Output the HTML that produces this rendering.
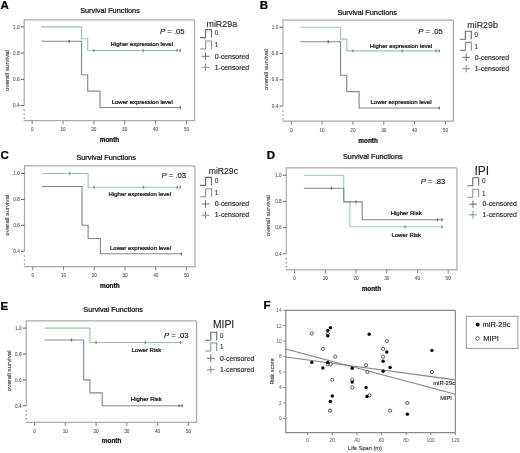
<!DOCTYPE html>
<html><head><meta charset="utf-8"><style>
html,body{margin:0;padding:0;background:#fff;}
svg{display:block;font-family:"Liberation Sans", sans-serif;}
</style></head><body>
<svg width="520" height="453" viewBox="0 0 520 453">
<defs><filter id="bl" x="0" y="0" width="1" height="1"><feGaussianBlur stdDeviation="0.5"/></filter></defs>
<rect width="520" height="453" fill="#fff"/>
<g filter="url(#bl)">
<rect width="520" height="453" fill="#fff"/>
<text x="0.60" y="9.00" font-size="11.5" text-anchor="start" font-weight="bold" font-style="normal" fill="#000" stroke="#000" stroke-width="0.24" >A</text>
<text x="110.00" y="13.00" font-size="7.3" text-anchor="middle" font-weight="normal" font-style="normal" fill="#111" stroke="#111" stroke-width="0.24" >Survival Functions</text>
<line x1="24.20" y1="19.90" x2="194.50" y2="19.90" stroke="#aaaaaa" stroke-width="1.2" />
<line x1="194.50" y1="19.90" x2="194.50" y2="120.60" stroke="#aaaaaa" stroke-width="1.2" />
<line x1="23.60" y1="120.60" x2="195.10" y2="120.60" stroke="#aaaaaa" stroke-width="1.2" />
<line x1="24.20" y1="19.30" x2="24.20" y2="105.50" stroke="#aaaaaa" stroke-width="1.2" />
<rect x="23.55" y="109.75" width="1.3" height="1.3" fill="#888"/>
<rect x="23.55" y="113.75" width="1.3" height="1.3" fill="#888"/>
<rect x="23.55" y="117.75" width="1.3" height="1.3" fill="#888"/>
<line x1="20.70" y1="26.90" x2="24.20" y2="26.90" stroke="#555" stroke-width="0.9" />
<text x="19.60" y="28.60" font-size="4.7" text-anchor="end" font-weight="normal" font-style="normal" fill="#555" stroke="#555" stroke-width="0.08" >1.0</text>
<line x1="20.70" y1="53.10" x2="24.20" y2="53.10" stroke="#555" stroke-width="0.9" />
<text x="19.60" y="54.80" font-size="4.7" text-anchor="end" font-weight="normal" font-style="normal" fill="#555" stroke="#555" stroke-width="0.08" >0.8</text>
<line x1="20.70" y1="79.30" x2="24.20" y2="79.30" stroke="#555" stroke-width="0.9" />
<text x="19.60" y="81.00" font-size="4.7" text-anchor="end" font-weight="normal" font-style="normal" fill="#555" stroke="#555" stroke-width="0.08" >0.6</text>
<line x1="20.70" y1="105.50" x2="24.20" y2="105.50" stroke="#555" stroke-width="0.9" />
<text x="19.60" y="107.20" font-size="4.7" text-anchor="end" font-weight="normal" font-style="normal" fill="#555" stroke="#555" stroke-width="0.08" >0.4</text>
<line x1="32.20" y1="120.60" x2="32.20" y2="124.20" stroke="#777" stroke-width="0.9" />
<text x="32.20" y="131.10" font-size="4.7" text-anchor="middle" font-weight="normal" font-style="normal" fill="#555" stroke="#555" stroke-width="0.08" >0</text>
<line x1="63.04" y1="120.60" x2="63.04" y2="124.20" stroke="#777" stroke-width="0.9" />
<text x="63.04" y="131.10" font-size="4.7" text-anchor="middle" font-weight="normal" font-style="normal" fill="#555" stroke="#555" stroke-width="0.08" >10</text>
<line x1="93.88" y1="120.60" x2="93.88" y2="124.20" stroke="#777" stroke-width="0.9" />
<text x="93.88" y="131.10" font-size="4.7" text-anchor="middle" font-weight="normal" font-style="normal" fill="#555" stroke="#555" stroke-width="0.08" >20</text>
<line x1="124.72" y1="120.60" x2="124.72" y2="124.20" stroke="#777" stroke-width="0.9" />
<text x="124.72" y="131.10" font-size="4.7" text-anchor="middle" font-weight="normal" font-style="normal" fill="#555" stroke="#555" stroke-width="0.08" >30</text>
<line x1="155.56" y1="120.60" x2="155.56" y2="124.20" stroke="#777" stroke-width="0.9" />
<text x="155.56" y="131.10" font-size="4.7" text-anchor="middle" font-weight="normal" font-style="normal" fill="#555" stroke="#555" stroke-width="0.08" >40</text>
<line x1="186.40" y1="120.60" x2="186.40" y2="124.20" stroke="#777" stroke-width="0.9" />
<text x="186.40" y="131.10" font-size="4.7" text-anchor="middle" font-weight="normal" font-style="normal" fill="#555" stroke="#555" stroke-width="0.08" >50</text>
<text x="7.20" y="70.60" font-size="6.2" text-anchor="middle" font-weight="normal" font-style="normal" fill="#3a3a3a" stroke="#3a3a3a" stroke-width="0.12" transform="rotate(-90 7.20 70.60)" dy="2">overall survival</text>
<text x="109.50" y="141.60" font-size="6.4" text-anchor="middle" font-weight="bold" font-style="normal" fill="#111" stroke="#111" stroke-width="0.24" >month</text>
<path d="M41.45,26.90 L81.54,26.90 L81.54,38.69 L87.71,38.69 L87.71,50.48 L180.85,50.48" fill="none" stroke="#93cca2" stroke-width="1.1"/>
<rect x="93.18" y="49.08" width="1.4" height="2.8" fill="#6e9a7a"/>
<rect x="142.52" y="49.08" width="1.4" height="2.8" fill="#6e9a7a"/>
<rect x="176.45" y="49.08" width="1.4" height="2.8" fill="#6e9a7a"/>
<rect x="179.53" y="49.08" width="1.4" height="2.8" fill="#6e9a7a"/>
<path d="M41.45,41.31 L81.54,41.31 L81.54,74.72 L87.71,74.72 L87.71,91.09 L100.05,91.09 L100.05,107.47 L180.85,107.47" fill="none" stroke="#8284a6" stroke-width="1.1"/>
<rect x="68.51" y="39.91" width="1.4" height="2.8" fill="#6a6c90"/>
<rect x="179.53" y="106.06" width="1.4" height="2.8" fill="#6a6c90"/>
<text x="160.00" y="34.00" font-size="7.7" fill="#111" stroke="#111" stroke-width="0.12"><tspan font-style="italic">P</tspan> = .05</text>
<text x="110.60" y="46.40" font-size="6" text-anchor="start" font-weight="normal" font-style="normal" fill="#111" stroke="#111" stroke-width="0.24" >Higher expression level</text>
<text x="111.70" y="104.30" font-size="6" text-anchor="start" font-weight="normal" font-style="normal" fill="#111" stroke="#111" stroke-width="0.24" >Lower expression level</text>
<text x="206.50" y="27.30" font-size="8.9" text-anchor="start" font-weight="normal" font-style="normal" fill="#222" stroke="#222" stroke-width="0.1" >miR29a</text>
<path d="M200.00,37.60 H205.60 V29.60 H211.50 V37.60" fill="none" stroke="#64667f" stroke-width="1.1"/>
<text x="214.80" y="35.20" font-size="6.3" text-anchor="start" font-weight="normal" font-style="normal" fill="#333" stroke="#333" stroke-width="0.1" >0</text>
<path d="M200.00,49.00 H205.60 V41.00 H211.50 V49.00" fill="none" stroke="#7c9d83" stroke-width="1.1"/>
<text x="214.80" y="47.30" font-size="6.3" text-anchor="start" font-weight="normal" font-style="normal" fill="#333" stroke="#333" stroke-width="0.1" >1</text>
<line x1="201.60" y1="56.30" x2="209.40" y2="56.30" stroke="#6c6c8e" stroke-width="1.0" />
<line x1="205.50" y1="52.60" x2="205.50" y2="60.00" stroke="#6c6c8e" stroke-width="1.0" />
<text x="214.80" y="58.50" font-size="6.85" text-anchor="start" font-weight="normal" font-style="normal" fill="#222" stroke="#222" stroke-width="0.15" >0-censored</text>
<line x1="201.60" y1="67.30" x2="209.40" y2="67.30" stroke="#6f9a7a" stroke-width="1.0" />
<line x1="205.50" y1="63.60" x2="205.50" y2="71.00" stroke="#6f9a7a" stroke-width="1.0" />
<text x="214.80" y="69.50" font-size="6.85" text-anchor="start" font-weight="normal" font-style="normal" fill="#222" stroke="#222" stroke-width="0.15" >1-censored</text>
<text x="259.80" y="9.00" font-size="11.5" text-anchor="start" font-weight="bold" font-style="normal" fill="#000" stroke="#000" stroke-width="0.24" >B</text>
<text x="367.20" y="15.40" font-size="7.3" text-anchor="middle" font-weight="normal" font-style="normal" fill="#111" stroke="#111" stroke-width="0.24" >Survival Functions</text>
<line x1="283.00" y1="20.20" x2="453.40" y2="20.20" stroke="#aaaaaa" stroke-width="1.2" />
<line x1="453.40" y1="20.20" x2="453.40" y2="121.20" stroke="#aaaaaa" stroke-width="1.2" />
<line x1="282.40" y1="121.20" x2="454.00" y2="121.20" stroke="#aaaaaa" stroke-width="1.2" />
<line x1="283.00" y1="19.60" x2="283.00" y2="106.02" stroke="#aaaaaa" stroke-width="1.2" />
<rect x="282.35" y="110.27" width="1.3" height="1.3" fill="#888"/>
<rect x="282.35" y="114.27" width="1.3" height="1.3" fill="#888"/>
<rect x="282.35" y="118.27" width="1.3" height="1.3" fill="#888"/>
<line x1="279.50" y1="27.30" x2="283.00" y2="27.30" stroke="#555" stroke-width="0.9" />
<text x="278.40" y="29.00" font-size="4.7" text-anchor="end" font-weight="normal" font-style="normal" fill="#555" stroke="#555" stroke-width="0.08" >1.0</text>
<line x1="279.50" y1="53.54" x2="283.00" y2="53.54" stroke="#555" stroke-width="0.9" />
<text x="278.40" y="55.24" font-size="4.7" text-anchor="end" font-weight="normal" font-style="normal" fill="#555" stroke="#555" stroke-width="0.08" >0.8</text>
<line x1="279.50" y1="79.78" x2="283.00" y2="79.78" stroke="#555" stroke-width="0.9" />
<text x="278.40" y="81.48" font-size="4.7" text-anchor="end" font-weight="normal" font-style="normal" fill="#555" stroke="#555" stroke-width="0.08" >0.6</text>
<line x1="279.50" y1="106.02" x2="283.00" y2="106.02" stroke="#555" stroke-width="0.9" />
<text x="278.40" y="107.72" font-size="4.7" text-anchor="end" font-weight="normal" font-style="normal" fill="#555" stroke="#555" stroke-width="0.08" >0.4</text>
<line x1="291.30" y1="121.20" x2="291.30" y2="124.80" stroke="#777" stroke-width="0.9" />
<text x="291.30" y="131.70" font-size="4.7" text-anchor="middle" font-weight="normal" font-style="normal" fill="#555" stroke="#555" stroke-width="0.08" >0</text>
<line x1="322.12" y1="121.20" x2="322.12" y2="124.80" stroke="#777" stroke-width="0.9" />
<text x="322.12" y="131.70" font-size="4.7" text-anchor="middle" font-weight="normal" font-style="normal" fill="#555" stroke="#555" stroke-width="0.08" >10</text>
<line x1="352.94" y1="121.20" x2="352.94" y2="124.80" stroke="#777" stroke-width="0.9" />
<text x="352.94" y="131.70" font-size="4.7" text-anchor="middle" font-weight="normal" font-style="normal" fill="#555" stroke="#555" stroke-width="0.08" >20</text>
<line x1="383.76" y1="121.20" x2="383.76" y2="124.80" stroke="#777" stroke-width="0.9" />
<text x="383.76" y="131.70" font-size="4.7" text-anchor="middle" font-weight="normal" font-style="normal" fill="#555" stroke="#555" stroke-width="0.08" >30</text>
<line x1="414.58" y1="121.20" x2="414.58" y2="124.80" stroke="#777" stroke-width="0.9" />
<text x="414.58" y="131.70" font-size="4.7" text-anchor="middle" font-weight="normal" font-style="normal" fill="#555" stroke="#555" stroke-width="0.08" >40</text>
<line x1="445.40" y1="121.20" x2="445.40" y2="124.80" stroke="#777" stroke-width="0.9" />
<text x="445.40" y="131.70" font-size="4.7" text-anchor="middle" font-weight="normal" font-style="normal" fill="#555" stroke="#555" stroke-width="0.08" >50</text>
<text x="266.00" y="69.60" font-size="6.2" text-anchor="middle" font-weight="normal" font-style="normal" fill="#3a3a3a" stroke="#3a3a3a" stroke-width="0.12" transform="rotate(-90 266.00 69.60)" dy="2">overall survival</text>
<text x="368.10" y="142.50" font-size="6.4" text-anchor="middle" font-weight="bold" font-style="normal" fill="#111" stroke="#111" stroke-width="0.24" >month</text>
<path d="M300.55,27.30 L340.61,27.30 L340.61,39.11 L346.78,39.11 L346.78,50.92 L439.85,50.92" fill="none" stroke="#93cca2" stroke-width="1.1"/>
<rect x="352.24" y="49.52" width="1.4" height="2.8" fill="#6e9a7a"/>
<rect x="401.55" y="49.52" width="1.4" height="2.8" fill="#6e9a7a"/>
<rect x="435.45" y="49.52" width="1.4" height="2.8" fill="#6e9a7a"/>
<rect x="438.54" y="49.52" width="1.4" height="2.8" fill="#6e9a7a"/>
<path d="M300.55,41.73 L340.61,41.73 L340.61,75.19 L346.78,75.19 L346.78,91.59 L359.10,91.59 L359.10,107.99 L439.85,107.99" fill="none" stroke="#8284a6" stroke-width="1.1"/>
<rect x="327.58" y="40.33" width="1.4" height="2.8" fill="#6a6c90"/>
<rect x="438.54" y="106.59" width="1.4" height="2.8" fill="#6a6c90"/>
<text x="418.20" y="33.80" font-size="7.7" fill="#111" stroke="#111" stroke-width="0.12"><tspan font-style="italic">P</tspan> = .05</text>
<text x="369.80" y="47.50" font-size="6" text-anchor="start" font-weight="normal" font-style="normal" fill="#111" stroke="#111" stroke-width="0.24" >Higher expression level</text>
<text x="370.50" y="104.40" font-size="6" text-anchor="start" font-weight="normal" font-style="normal" fill="#111" stroke="#111" stroke-width="0.24" >Lower expression level</text>
<text x="467.30" y="27.80" font-size="8.9" text-anchor="start" font-weight="normal" font-style="normal" fill="#222" stroke="#222" stroke-width="0.1" >miR29b</text>
<path d="M459.80,39.30 H465.40 V31.30 H471.30 V39.30" fill="none" stroke="#64667f" stroke-width="1.1"/>
<text x="474.60" y="36.90" font-size="6.3" text-anchor="start" font-weight="normal" font-style="normal" fill="#333" stroke="#333" stroke-width="0.1" >0</text>
<path d="M459.80,50.40 H465.40 V42.40 H471.30 V50.40" fill="none" stroke="#7c9d83" stroke-width="1.1"/>
<text x="474.60" y="48.70" font-size="6.3" text-anchor="start" font-weight="normal" font-style="normal" fill="#333" stroke="#333" stroke-width="0.1" >1</text>
<line x1="462.30" y1="57.30" x2="470.10" y2="57.30" stroke="#6c6c8e" stroke-width="1.0" />
<line x1="466.20" y1="53.60" x2="466.20" y2="61.00" stroke="#6c6c8e" stroke-width="1.0" />
<text x="474.80" y="59.50" font-size="6.85" text-anchor="start" font-weight="normal" font-style="normal" fill="#222" stroke="#222" stroke-width="0.15" >0-censored</text>
<line x1="462.30" y1="68.70" x2="470.10" y2="68.70" stroke="#6f9a7a" stroke-width="1.0" />
<line x1="466.20" y1="65.00" x2="466.20" y2="72.40" stroke="#6f9a7a" stroke-width="1.0" />
<text x="474.80" y="70.90" font-size="6.85" text-anchor="start" font-weight="normal" font-style="normal" fill="#222" stroke="#222" stroke-width="0.15" >1-censored</text>
<text x="0.60" y="158.60" font-size="11.5" text-anchor="start" font-weight="bold" font-style="normal" fill="#000" stroke="#000" stroke-width="0.24" >C</text>
<text x="106.20" y="160.40" font-size="7.3" text-anchor="middle" font-weight="normal" font-style="normal" fill="#111" stroke="#111" stroke-width="0.24" >Survival Functions</text>
<line x1="24.50" y1="165.90" x2="194.95" y2="165.90" stroke="#aaaaaa" stroke-width="1.2" />
<line x1="194.95" y1="165.90" x2="194.95" y2="266.60" stroke="#aaaaaa" stroke-width="1.2" />
<line x1="23.90" y1="266.60" x2="195.55" y2="266.60" stroke="#aaaaaa" stroke-width="1.2" />
<line x1="24.50" y1="165.30" x2="24.50" y2="251.20" stroke="#aaaaaa" stroke-width="1.2" />
<rect x="23.85" y="255.45" width="1.3" height="1.3" fill="#888"/>
<rect x="23.85" y="259.45" width="1.3" height="1.3" fill="#888"/>
<rect x="23.85" y="263.45" width="1.3" height="1.3" fill="#888"/>
<line x1="21.00" y1="173.50" x2="24.50" y2="173.50" stroke="#555" stroke-width="0.9" />
<text x="19.90" y="175.20" font-size="4.7" text-anchor="end" font-weight="normal" font-style="normal" fill="#555" stroke="#555" stroke-width="0.08" >1.0</text>
<line x1="21.00" y1="199.40" x2="24.50" y2="199.40" stroke="#555" stroke-width="0.9" />
<text x="19.90" y="201.10" font-size="4.7" text-anchor="end" font-weight="normal" font-style="normal" fill="#555" stroke="#555" stroke-width="0.08" >0.8</text>
<line x1="21.00" y1="225.30" x2="24.50" y2="225.30" stroke="#555" stroke-width="0.9" />
<text x="19.90" y="227.00" font-size="4.7" text-anchor="end" font-weight="normal" font-style="normal" fill="#555" stroke="#555" stroke-width="0.08" >0.6</text>
<line x1="21.00" y1="251.20" x2="24.50" y2="251.20" stroke="#555" stroke-width="0.9" />
<text x="19.90" y="252.90" font-size="4.7" text-anchor="end" font-weight="normal" font-style="normal" fill="#555" stroke="#555" stroke-width="0.08" >0.4</text>
<line x1="32.80" y1="266.60" x2="32.80" y2="270.20" stroke="#777" stroke-width="0.9" />
<text x="32.80" y="277.10" font-size="4.7" text-anchor="middle" font-weight="normal" font-style="normal" fill="#555" stroke="#555" stroke-width="0.08" >0</text>
<line x1="63.54" y1="266.60" x2="63.54" y2="270.20" stroke="#777" stroke-width="0.9" />
<text x="63.54" y="277.10" font-size="4.7" text-anchor="middle" font-weight="normal" font-style="normal" fill="#555" stroke="#555" stroke-width="0.08" >10</text>
<line x1="94.28" y1="266.60" x2="94.28" y2="270.20" stroke="#777" stroke-width="0.9" />
<text x="94.28" y="277.10" font-size="4.7" text-anchor="middle" font-weight="normal" font-style="normal" fill="#555" stroke="#555" stroke-width="0.08" >20</text>
<line x1="125.02" y1="266.60" x2="125.02" y2="270.20" stroke="#777" stroke-width="0.9" />
<text x="125.02" y="277.10" font-size="4.7" text-anchor="middle" font-weight="normal" font-style="normal" fill="#555" stroke="#555" stroke-width="0.08" >30</text>
<line x1="155.76" y1="266.60" x2="155.76" y2="270.20" stroke="#777" stroke-width="0.9" />
<text x="155.76" y="277.10" font-size="4.7" text-anchor="middle" font-weight="normal" font-style="normal" fill="#555" stroke="#555" stroke-width="0.08" >40</text>
<line x1="186.50" y1="266.60" x2="186.50" y2="270.20" stroke="#777" stroke-width="0.9" />
<text x="186.50" y="277.10" font-size="4.7" text-anchor="middle" font-weight="normal" font-style="normal" fill="#555" stroke="#555" stroke-width="0.08" >50</text>
<text x="7.20" y="215.20" font-size="6.2" text-anchor="middle" font-weight="normal" font-style="normal" fill="#3a3a3a" stroke="#3a3a3a" stroke-width="0.12" transform="rotate(-90 7.20 215.20)" dy="2">overall survival</text>
<text x="109.80" y="287.60" font-size="6.4" text-anchor="middle" font-weight="bold" font-style="normal" fill="#111" stroke="#111" stroke-width="0.24" >month</text>
<path d="M42.02,173.50 L88.13,173.50 L88.13,187.23 L181.27,187.23" fill="none" stroke="#93cca2" stroke-width="1.1"/>
<rect x="68.99" y="172.10" width="1.4" height="2.8" fill="#6e9a7a"/>
<rect x="93.58" y="185.83" width="1.4" height="2.8" fill="#6e9a7a"/>
<rect x="142.76" y="185.83" width="1.4" height="2.8" fill="#6e9a7a"/>
<rect x="176.58" y="185.83" width="1.4" height="2.8" fill="#6e9a7a"/>
<rect x="179.65" y="185.83" width="1.4" height="2.8" fill="#6e9a7a"/>
<path d="M42.02,186.45 L81.98,186.45 L81.98,225.30 L88.13,225.30 L88.13,238.51 L100.43,238.51 L100.43,253.79 L181.27,253.79" fill="none" stroke="#8284a6" stroke-width="1.1"/>
<rect x="180.57" y="252.39" width="1.4" height="2.8" fill="#6a6c90"/>
<text x="161.50" y="177.80" font-size="7.7" fill="#111" stroke="#111" stroke-width="0.12"><tspan font-style="italic">P</tspan> = .03</text>
<text x="108.60" y="196.30" font-size="6" text-anchor="start" font-weight="normal" font-style="normal" fill="#111" stroke="#111" stroke-width="0.24" >Higher expression level</text>
<text x="110.00" y="249.50" font-size="6" text-anchor="start" font-weight="normal" font-style="normal" fill="#111" stroke="#111" stroke-width="0.24" >Lower expression level</text>
<text x="208.80" y="173.70" font-size="8.6" text-anchor="start" font-weight="normal" font-style="normal" fill="#222" stroke="#222" stroke-width="0.1" >miR29c</text>
<path d="M200.00,185.40 H205.60 V177.40 H211.50 V185.40" fill="none" stroke="#64667f" stroke-width="1.1"/>
<text x="214.80" y="183.00" font-size="6.3" text-anchor="start" font-weight="normal" font-style="normal" fill="#333" stroke="#333" stroke-width="0.1" >0</text>
<path d="M200.00,196.80 H205.60 V188.80 H211.50 V196.80" fill="none" stroke="#7c9d83" stroke-width="1.1"/>
<text x="214.80" y="195.10" font-size="6.3" text-anchor="start" font-weight="normal" font-style="normal" fill="#333" stroke="#333" stroke-width="0.1" >1</text>
<line x1="201.60" y1="204.00" x2="209.40" y2="204.00" stroke="#6c6c8e" stroke-width="1.0" />
<line x1="205.50" y1="200.30" x2="205.50" y2="207.70" stroke="#6c6c8e" stroke-width="1.0" />
<text x="214.80" y="206.20" font-size="6.85" text-anchor="start" font-weight="normal" font-style="normal" fill="#222" stroke="#222" stroke-width="0.15" >0-censored</text>
<line x1="201.60" y1="215.20" x2="209.40" y2="215.20" stroke="#6f9a7a" stroke-width="1.0" />
<line x1="205.50" y1="211.50" x2="205.50" y2="218.90" stroke="#6f9a7a" stroke-width="1.0" />
<text x="214.80" y="217.40" font-size="6.85" text-anchor="start" font-weight="normal" font-style="normal" fill="#222" stroke="#222" stroke-width="0.15" >1-censored</text>
<text x="266.80" y="158.60" font-size="11.5" text-anchor="start" font-weight="bold" font-style="normal" fill="#000" stroke="#000" stroke-width="0.24" >D</text>
<text x="372.80" y="159.40" font-size="7.3" text-anchor="middle" font-weight="normal" font-style="normal" fill="#111" stroke="#111" stroke-width="0.24" >Survival Functions</text>
<line x1="286.30" y1="167.90" x2="456.95" y2="167.90" stroke="#aaaaaa" stroke-width="1.2" />
<line x1="456.95" y1="167.90" x2="456.95" y2="269.90" stroke="#aaaaaa" stroke-width="1.2" />
<line x1="285.70" y1="269.90" x2="457.55" y2="269.90" stroke="#aaaaaa" stroke-width="1.2" />
<line x1="286.30" y1="167.30" x2="286.30" y2="253.80" stroke="#aaaaaa" stroke-width="1.2" />
<rect x="285.65" y="258.05" width="1.3" height="1.3" fill="#888"/>
<rect x="285.65" y="262.05" width="1.3" height="1.3" fill="#888"/>
<rect x="285.65" y="266.05" width="1.3" height="1.3" fill="#888"/>
<line x1="282.80" y1="175.20" x2="286.30" y2="175.20" stroke="#555" stroke-width="0.9" />
<text x="281.70" y="176.90" font-size="4.7" text-anchor="end" font-weight="normal" font-style="normal" fill="#555" stroke="#555" stroke-width="0.08" >1.0</text>
<line x1="282.80" y1="201.40" x2="286.30" y2="201.40" stroke="#555" stroke-width="0.9" />
<text x="281.70" y="203.10" font-size="4.7" text-anchor="end" font-weight="normal" font-style="normal" fill="#555" stroke="#555" stroke-width="0.08" >0.8</text>
<line x1="282.80" y1="227.60" x2="286.30" y2="227.60" stroke="#555" stroke-width="0.9" />
<text x="281.70" y="229.30" font-size="4.7" text-anchor="end" font-weight="normal" font-style="normal" fill="#555" stroke="#555" stroke-width="0.08" >0.6</text>
<line x1="282.80" y1="253.80" x2="286.30" y2="253.80" stroke="#555" stroke-width="0.9" />
<text x="281.70" y="255.50" font-size="4.7" text-anchor="end" font-weight="normal" font-style="normal" fill="#555" stroke="#555" stroke-width="0.08" >0.4</text>
<line x1="294.60" y1="269.90" x2="294.60" y2="273.50" stroke="#777" stroke-width="0.9" />
<text x="294.60" y="280.40" font-size="4.7" text-anchor="middle" font-weight="normal" font-style="normal" fill="#555" stroke="#555" stroke-width="0.08" >0</text>
<line x1="325.32" y1="269.90" x2="325.32" y2="273.50" stroke="#777" stroke-width="0.9" />
<text x="325.32" y="280.40" font-size="4.7" text-anchor="middle" font-weight="normal" font-style="normal" fill="#555" stroke="#555" stroke-width="0.08" >10</text>
<line x1="356.04" y1="269.90" x2="356.04" y2="273.50" stroke="#777" stroke-width="0.9" />
<text x="356.04" y="280.40" font-size="4.7" text-anchor="middle" font-weight="normal" font-style="normal" fill="#555" stroke="#555" stroke-width="0.08" >20</text>
<line x1="386.76" y1="269.90" x2="386.76" y2="273.50" stroke="#777" stroke-width="0.9" />
<text x="386.76" y="280.40" font-size="4.7" text-anchor="middle" font-weight="normal" font-style="normal" fill="#555" stroke="#555" stroke-width="0.08" >30</text>
<line x1="417.48" y1="269.90" x2="417.48" y2="273.50" stroke="#777" stroke-width="0.9" />
<text x="417.48" y="280.40" font-size="4.7" text-anchor="middle" font-weight="normal" font-style="normal" fill="#555" stroke="#555" stroke-width="0.08" >40</text>
<line x1="448.20" y1="269.90" x2="448.20" y2="273.50" stroke="#777" stroke-width="0.9" />
<text x="448.20" y="280.40" font-size="4.7" text-anchor="middle" font-weight="normal" font-style="normal" fill="#555" stroke="#555" stroke-width="0.08" >50</text>
<text x="268.00" y="215.70" font-size="6.2" text-anchor="middle" font-weight="normal" font-style="normal" fill="#3a3a3a" stroke="#3a3a3a" stroke-width="0.12" transform="rotate(-90 268.00 215.70)" dy="2">overall survival</text>
<text x="371.40" y="290.90" font-size="6.4" text-anchor="middle" font-weight="bold" font-style="normal" fill="#111" stroke="#111" stroke-width="0.24" >month</text>
<path d="M303.82,175.20 L343.75,175.20 L343.75,202.05 L349.90,202.05 L349.90,226.81 L442.36,226.81" fill="none" stroke="#93cca2" stroke-width="1.1"/>
<rect x="404.49" y="225.41" width="1.4" height="2.8" fill="#6e9a7a"/>
<rect x="441.36" y="225.41" width="1.4" height="2.8" fill="#6e9a7a"/>
<path d="M303.82,188.30 L343.75,188.30 L343.75,201.92 L362.18,201.92 L362.18,219.74 L442.36,219.74" fill="none" stroke="#8284a6" stroke-width="1.1"/>
<rect x="330.76" y="186.90" width="1.4" height="2.8" fill="#6a6c90"/>
<rect x="355.34" y="200.52" width="1.4" height="2.8" fill="#6a6c90"/>
<rect x="436.75" y="218.34" width="1.4" height="2.8" fill="#6a6c90"/>
<rect x="441.36" y="218.34" width="1.4" height="2.8" fill="#6a6c90"/>
<text x="420.80" y="183.90" font-size="7.7" fill="#111" stroke="#111" stroke-width="0.12"><tspan font-style="italic">P</tspan> = .83</text>
<text x="390.70" y="215.20" font-size="6" text-anchor="start" font-weight="normal" font-style="normal" fill="#111" stroke="#111" stroke-width="0.24" >Higher Risk</text>
<text x="391.40" y="237.10" font-size="6" text-anchor="start" font-weight="normal" font-style="normal" fill="#111" stroke="#111" stroke-width="0.24" >Lower Risk</text>
<text x="474.40" y="174.60" font-size="12" text-anchor="start" font-weight="normal" font-style="normal" fill="#222" stroke="#222" stroke-width="0.1" >IPI</text>
<path d="M467.20,185.80 H472.80 V177.80 H478.70 V185.80" fill="none" stroke="#64667f" stroke-width="1.1"/>
<text x="482.00" y="183.40" font-size="6.3" text-anchor="start" font-weight="normal" font-style="normal" fill="#333" stroke="#333" stroke-width="0.1" >0</text>
<path d="M467.20,197.30 H472.80 V189.30 H478.70 V197.30" fill="none" stroke="#7c9d83" stroke-width="1.1"/>
<text x="482.00" y="195.60" font-size="6.3" text-anchor="start" font-weight="normal" font-style="normal" fill="#333" stroke="#333" stroke-width="0.1" >1</text>
<line x1="469.10" y1="204.20" x2="476.90" y2="204.20" stroke="#6c6c8e" stroke-width="1.0" />
<line x1="473.00" y1="200.50" x2="473.00" y2="207.90" stroke="#6c6c8e" stroke-width="1.0" />
<text x="482.60" y="206.40" font-size="6.85" text-anchor="start" font-weight="normal" font-style="normal" fill="#222" stroke="#222" stroke-width="0.15" >0-censored</text>
<line x1="469.10" y1="214.80" x2="476.90" y2="214.80" stroke="#6f9a7a" stroke-width="1.0" />
<line x1="473.00" y1="211.10" x2="473.00" y2="218.50" stroke="#6f9a7a" stroke-width="1.0" />
<text x="482.60" y="217.00" font-size="6.85" text-anchor="start" font-weight="normal" font-style="normal" fill="#222" stroke="#222" stroke-width="0.15" >1-censored</text>
<text x="0.60" y="310.40" font-size="11.5" text-anchor="start" font-weight="bold" font-style="normal" fill="#000" stroke="#000" stroke-width="0.24" >E</text>
<text x="113.10" y="312.40" font-size="7.3" text-anchor="middle" font-weight="normal" font-style="normal" fill="#111" stroke="#111" stroke-width="0.24" >Survival Functions</text>
<line x1="26.20" y1="320.90" x2="196.60" y2="320.90" stroke="#aaaaaa" stroke-width="1.2" />
<line x1="196.60" y1="320.90" x2="196.60" y2="422.40" stroke="#aaaaaa" stroke-width="1.2" />
<line x1="25.60" y1="422.40" x2="197.20" y2="422.40" stroke="#aaaaaa" stroke-width="1.2" />
<line x1="26.20" y1="320.30" x2="26.20" y2="405.80" stroke="#aaaaaa" stroke-width="1.2" />
<rect x="25.55" y="410.05" width="1.3" height="1.3" fill="#888"/>
<rect x="25.55" y="414.05" width="1.3" height="1.3" fill="#888"/>
<rect x="25.55" y="418.05" width="1.3" height="1.3" fill="#888"/>
<line x1="22.70" y1="328.10" x2="26.20" y2="328.10" stroke="#555" stroke-width="0.9" />
<text x="21.60" y="329.80" font-size="4.7" text-anchor="end" font-weight="normal" font-style="normal" fill="#555" stroke="#555" stroke-width="0.08" >1.0</text>
<line x1="22.70" y1="354.00" x2="26.20" y2="354.00" stroke="#555" stroke-width="0.9" />
<text x="21.60" y="355.70" font-size="4.7" text-anchor="end" font-weight="normal" font-style="normal" fill="#555" stroke="#555" stroke-width="0.08" >0.8</text>
<line x1="22.70" y1="379.90" x2="26.20" y2="379.90" stroke="#555" stroke-width="0.9" />
<text x="21.60" y="381.60" font-size="4.7" text-anchor="end" font-weight="normal" font-style="normal" fill="#555" stroke="#555" stroke-width="0.08" >0.6</text>
<line x1="22.70" y1="405.80" x2="26.20" y2="405.80" stroke="#555" stroke-width="0.9" />
<text x="21.60" y="407.50" font-size="4.7" text-anchor="end" font-weight="normal" font-style="normal" fill="#555" stroke="#555" stroke-width="0.08" >0.4</text>
<line x1="34.50" y1="422.40" x2="34.50" y2="426.00" stroke="#777" stroke-width="0.9" />
<text x="34.50" y="432.90" font-size="4.7" text-anchor="middle" font-weight="normal" font-style="normal" fill="#555" stroke="#555" stroke-width="0.08" >0</text>
<line x1="65.28" y1="422.40" x2="65.28" y2="426.00" stroke="#777" stroke-width="0.9" />
<text x="65.28" y="432.90" font-size="4.7" text-anchor="middle" font-weight="normal" font-style="normal" fill="#555" stroke="#555" stroke-width="0.08" >10</text>
<line x1="96.06" y1="422.40" x2="96.06" y2="426.00" stroke="#777" stroke-width="0.9" />
<text x="96.06" y="432.90" font-size="4.7" text-anchor="middle" font-weight="normal" font-style="normal" fill="#555" stroke="#555" stroke-width="0.08" >20</text>
<line x1="126.84" y1="422.40" x2="126.84" y2="426.00" stroke="#777" stroke-width="0.9" />
<text x="126.84" y="432.90" font-size="4.7" text-anchor="middle" font-weight="normal" font-style="normal" fill="#555" stroke="#555" stroke-width="0.08" >30</text>
<line x1="157.62" y1="422.40" x2="157.62" y2="426.00" stroke="#777" stroke-width="0.9" />
<text x="157.62" y="432.90" font-size="4.7" text-anchor="middle" font-weight="normal" font-style="normal" fill="#555" stroke="#555" stroke-width="0.08" >40</text>
<line x1="188.40" y1="422.40" x2="188.40" y2="426.00" stroke="#777" stroke-width="0.9" />
<text x="188.40" y="432.90" font-size="4.7" text-anchor="middle" font-weight="normal" font-style="normal" fill="#555" stroke="#555" stroke-width="0.08" >50</text>
<text x="9.30" y="370.90" font-size="6.2" text-anchor="middle" font-weight="normal" font-style="normal" fill="#3a3a3a" stroke="#3a3a3a" stroke-width="0.12" transform="rotate(-90 9.30 370.90)" dy="2">overall survival</text>
<text x="111.60" y="443.20" font-size="6.4" text-anchor="middle" font-weight="bold" font-style="normal" fill="#111" stroke="#111" stroke-width="0.24" >month</text>
<path d="M44.66,328.10 L89.90,328.10 L89.90,342.47 L182.24,342.47" fill="none" stroke="#93cca2" stroke-width="1.1"/>
<rect x="95.36" y="341.07" width="1.4" height="2.8" fill="#6e9a7a"/>
<rect x="144.61" y="341.07" width="1.4" height="2.8" fill="#6e9a7a"/>
<rect x="180.00" y="341.07" width="1.4" height="2.8" fill="#6e9a7a"/>
<path d="M44.66,340.01 L83.75,340.01 L83.75,379.90 L89.90,379.90 L89.90,392.85 L102.22,392.85 L102.22,405.80 L182.24,405.80" fill="none" stroke="#8284a6" stroke-width="1.1"/>
<rect x="70.74" y="338.61" width="1.4" height="2.8" fill="#6a6c90"/>
<rect x="178.47" y="404.40" width="1.4" height="2.8" fill="#6a6c90"/>
<rect x="181.54" y="404.40" width="1.4" height="2.8" fill="#6a6c90"/>
<text x="164.00" y="337.60" font-size="7.7" fill="#111" stroke="#111" stroke-width="0.12"><tspan font-style="italic">P</tspan> = .03</text>
<text x="131.50" y="351.80" font-size="6" text-anchor="start" font-weight="normal" font-style="normal" fill="#111" stroke="#111" stroke-width="0.24" >Lower Risk</text>
<text x="130.80" y="400.50" font-size="6" text-anchor="start" font-weight="normal" font-style="normal" fill="#111" stroke="#111" stroke-width="0.24" >Higher Risk</text>
<text x="213.00" y="328.40" font-size="10.3" text-anchor="start" font-weight="normal" font-style="normal" fill="#222" stroke="#222" stroke-width="0.1" >MIPI</text>
<path d="M205.20,340.20 H210.80 V332.20 H216.70 V340.20" fill="none" stroke="#64667f" stroke-width="1.1"/>
<text x="220.00" y="337.80" font-size="6.3" text-anchor="start" font-weight="normal" font-style="normal" fill="#333" stroke="#333" stroke-width="0.1" >0</text>
<path d="M205.20,351.00 H210.80 V343.00 H216.70 V351.00" fill="none" stroke="#7c9d83" stroke-width="1.1"/>
<text x="220.00" y="349.30" font-size="6.3" text-anchor="start" font-weight="normal" font-style="normal" fill="#333" stroke="#333" stroke-width="0.1" >1</text>
<line x1="206.90" y1="358.30" x2="214.70" y2="358.30" stroke="#6c6c8e" stroke-width="1.0" />
<line x1="210.80" y1="354.60" x2="210.80" y2="362.00" stroke="#6c6c8e" stroke-width="1.0" />
<text x="220.00" y="360.50" font-size="6.85" text-anchor="start" font-weight="normal" font-style="normal" fill="#222" stroke="#222" stroke-width="0.15" >0-censored</text>
<line x1="206.90" y1="369.70" x2="214.70" y2="369.70" stroke="#6f9a7a" stroke-width="1.0" />
<line x1="210.80" y1="366.00" x2="210.80" y2="373.40" stroke="#6f9a7a" stroke-width="1.0" />
<text x="220.00" y="371.90" font-size="6.85" text-anchor="start" font-weight="normal" font-style="normal" fill="#222" stroke="#222" stroke-width="0.15" >1-censored</text>
<text x="263.60" y="308.60" font-size="11.5" text-anchor="start" font-weight="bold" font-style="normal" fill="#000" stroke="#000" stroke-width="0.24" >F</text>
<line x1="285.80" y1="310.40" x2="455.35" y2="310.40" stroke="#8a8a8a" stroke-width="1.2" />
<line x1="455.35" y1="310.40" x2="455.35" y2="432.60" stroke="#8a8a8a" stroke-width="1.2" />
<line x1="285.80" y1="432.60" x2="455.35" y2="432.60" stroke="#8a8a8a" stroke-width="1.2" />
<line x1="285.80" y1="309.80" x2="285.80" y2="433.20" stroke="#8a8a8a" stroke-width="1.2" />
<line x1="283.20" y1="418.40" x2="285.80" y2="418.40" stroke="#777" stroke-width="0.9" />
<text x="281.80" y="420.20" font-size="4.9" text-anchor="end" font-weight="normal" font-style="normal" fill="#666" stroke="#666" stroke-width="0.04" >0</text>
<line x1="283.20" y1="402.95" x2="285.80" y2="402.95" stroke="#777" stroke-width="0.9" />
<text x="281.80" y="404.75" font-size="4.9" text-anchor="end" font-weight="normal" font-style="normal" fill="#666" stroke="#666" stroke-width="0.04" >2</text>
<line x1="283.20" y1="387.50" x2="285.80" y2="387.50" stroke="#777" stroke-width="0.9" />
<text x="281.80" y="389.30" font-size="4.9" text-anchor="end" font-weight="normal" font-style="normal" fill="#666" stroke="#666" stroke-width="0.04" >4</text>
<line x1="283.20" y1="372.05" x2="285.80" y2="372.05" stroke="#777" stroke-width="0.9" />
<text x="281.80" y="373.85" font-size="4.9" text-anchor="end" font-weight="normal" font-style="normal" fill="#666" stroke="#666" stroke-width="0.04" >6</text>
<line x1="283.20" y1="356.60" x2="285.80" y2="356.60" stroke="#777" stroke-width="0.9" />
<text x="281.80" y="358.40" font-size="4.9" text-anchor="end" font-weight="normal" font-style="normal" fill="#666" stroke="#666" stroke-width="0.04" >8</text>
<line x1="283.20" y1="341.15" x2="285.80" y2="341.15" stroke="#777" stroke-width="0.9" />
<text x="281.80" y="342.95" font-size="4.9" text-anchor="end" font-weight="normal" font-style="normal" fill="#666" stroke="#666" stroke-width="0.04" >10</text>
<line x1="283.20" y1="325.70" x2="285.80" y2="325.70" stroke="#777" stroke-width="0.9" />
<text x="281.80" y="327.50" font-size="4.9" text-anchor="end" font-weight="normal" font-style="normal" fill="#666" stroke="#666" stroke-width="0.04" >12</text>
<line x1="283.20" y1="310.25" x2="285.80" y2="310.25" stroke="#777" stroke-width="0.9" />
<text x="281.80" y="312.05" font-size="4.9" text-anchor="end" font-weight="normal" font-style="normal" fill="#666" stroke="#666" stroke-width="0.04" >14</text>
<line x1="307.70" y1="432.60" x2="307.70" y2="435.00" stroke="#777" stroke-width="0.9" />
<text x="307.70" y="441.50" font-size="4.9" text-anchor="middle" font-weight="normal" font-style="normal" fill="#666" stroke="#666" stroke-width="0.04" >0</text>
<line x1="332.30" y1="432.60" x2="332.30" y2="435.00" stroke="#777" stroke-width="0.9" />
<text x="332.30" y="441.50" font-size="4.9" text-anchor="middle" font-weight="normal" font-style="normal" fill="#666" stroke="#666" stroke-width="0.04" >20</text>
<line x1="356.90" y1="432.60" x2="356.90" y2="435.00" stroke="#777" stroke-width="0.9" />
<text x="356.90" y="441.50" font-size="4.9" text-anchor="middle" font-weight="normal" font-style="normal" fill="#666" stroke="#666" stroke-width="0.04" >40</text>
<line x1="381.50" y1="432.60" x2="381.50" y2="435.00" stroke="#777" stroke-width="0.9" />
<text x="381.50" y="441.50" font-size="4.9" text-anchor="middle" font-weight="normal" font-style="normal" fill="#666" stroke="#666" stroke-width="0.04" >60</text>
<line x1="406.10" y1="432.60" x2="406.10" y2="435.00" stroke="#777" stroke-width="0.9" />
<text x="406.10" y="441.50" font-size="4.9" text-anchor="middle" font-weight="normal" font-style="normal" fill="#666" stroke="#666" stroke-width="0.04" >80</text>
<line x1="430.70" y1="432.60" x2="430.70" y2="435.00" stroke="#777" stroke-width="0.9" />
<text x="430.70" y="441.50" font-size="4.9" text-anchor="middle" font-weight="normal" font-style="normal" fill="#666" stroke="#666" stroke-width="0.04" >100</text>
<line x1="455.30" y1="432.60" x2="455.30" y2="435.00" stroke="#777" stroke-width="0.9" />
<text x="455.30" y="441.50" font-size="4.9" text-anchor="middle" font-weight="normal" font-style="normal" fill="#666" stroke="#666" stroke-width="0.04" >120</text>
<text x="365.00" y="449.90" font-size="5.65" text-anchor="middle" font-weight="normal" font-style="normal" fill="#2a2a2a" stroke="#2a2a2a" stroke-width="0.1" >Life Span (m)</text>
<text x="272.10" y="371.50" font-size="5.6" text-anchor="middle" font-weight="normal" font-style="normal" fill="#333" stroke="#333" stroke-width="0.1" transform="rotate(-90 272.1 371.5)" dy="2">Risk score</text>
<line x1="285.80" y1="357.00" x2="455.35" y2="379.90" stroke="#858585" stroke-width="1.1" />
<line x1="285.80" y1="349.00" x2="455.35" y2="394.20" stroke="#858585" stroke-width="1.1" />
<text x="433.20" y="384.90" font-size="5.9" text-anchor="start" font-weight="normal" font-style="normal" fill="#222" stroke="#222" stroke-width="0.12" >miR-29c</text>
<text x="440.30" y="400.40" font-size="5.6" text-anchor="start" font-weight="normal" font-style="normal" fill="#222" stroke="#222" stroke-width="0.12" >MIPI</text>
<circle cx="311.76" cy="333.42" r="1.6" fill="#fff" stroke="#333" stroke-width="0.8"/>
<circle cx="327.75" cy="333.89" r="1.6" fill="#fff" stroke="#333" stroke-width="0.8"/>
<circle cx="322.83" cy="348.88" r="1.6" fill="#fff" stroke="#333" stroke-width="0.8"/>
<circle cx="335.25" cy="356.60" r="1.6" fill="#fff" stroke="#333" stroke-width="0.8"/>
<circle cx="327.75" cy="364.32" r="1.6" fill="#fff" stroke="#333" stroke-width="0.8"/>
<circle cx="330.70" cy="364.32" r="1.6" fill="#fff" stroke="#333" stroke-width="0.8"/>
<circle cx="332.30" cy="379.77" r="1.6" fill="#fff" stroke="#333" stroke-width="0.8"/>
<circle cx="329.96" cy="410.67" r="1.6" fill="#fff" stroke="#333" stroke-width="0.8"/>
<circle cx="352.23" cy="379.77" r="1.6" fill="#fff" stroke="#333" stroke-width="0.8"/>
<circle cx="352.23" cy="387.50" r="1.6" fill="#fff" stroke="#333" stroke-width="0.8"/>
<circle cx="366.12" cy="365.10" r="1.6" fill="#fff" stroke="#333" stroke-width="0.8"/>
<circle cx="367.36" cy="372.05" r="1.6" fill="#fff" stroke="#333" stroke-width="0.8"/>
<circle cx="369.45" cy="395.22" r="1.6" fill="#fff" stroke="#333" stroke-width="0.8"/>
<circle cx="386.79" cy="341.15" r="1.6" fill="#fff" stroke="#333" stroke-width="0.8"/>
<circle cx="383.10" cy="348.88" r="1.6" fill="#fff" stroke="#333" stroke-width="0.8"/>
<circle cx="383.10" cy="356.60" r="1.6" fill="#fff" stroke="#333" stroke-width="0.8"/>
<circle cx="390.11" cy="410.67" r="1.6" fill="#fff" stroke="#333" stroke-width="0.8"/>
<circle cx="407.33" cy="402.95" r="1.6" fill="#fff" stroke="#333" stroke-width="0.8"/>
<circle cx="431.93" cy="372.05" r="1.6" fill="#fff" stroke="#333" stroke-width="0.8"/>
<circle cx="311.76" cy="362.39" r="1.7" fill="#000"/>
<circle cx="327.75" cy="330.33" r="1.7" fill="#000"/>
<circle cx="330.45" cy="327.63" r="1.7" fill="#000"/>
<circle cx="327.75" cy="335.90" r="1.7" fill="#000"/>
<circle cx="322.83" cy="367.96" r="1.7" fill="#000"/>
<circle cx="327.75" cy="362.39" r="1.7" fill="#000"/>
<circle cx="332.30" cy="396.00" r="1.7" fill="#000"/>
<circle cx="330.33" cy="401.40" r="1.7" fill="#000"/>
<circle cx="369.20" cy="334.20" r="1.7" fill="#000"/>
<circle cx="352.23" cy="368.19" r="1.7" fill="#000"/>
<circle cx="352.23" cy="382.09" r="1.7" fill="#000"/>
<circle cx="366.12" cy="387.50" r="1.7" fill="#000"/>
<circle cx="366.99" cy="396.38" r="1.7" fill="#000"/>
<circle cx="386.79" cy="351.96" r="1.7" fill="#000"/>
<circle cx="383.10" cy="361.23" r="1.7" fill="#000"/>
<circle cx="390.11" cy="367.41" r="1.7" fill="#000"/>
<circle cx="383.10" cy="371.28" r="1.7" fill="#000"/>
<circle cx="407.33" cy="414.15" r="1.7" fill="#000"/>
<circle cx="431.93" cy="350.42" r="1.7" fill="#000"/>
<rect x="466.3" y="316.3" width="51.6" height="32.1" fill="#fff" stroke="#999" stroke-width="1"/>
<circle cx="477.7" cy="324.5" r="1.9" fill="#000"/>
<circle cx="477.5" cy="338.4" r="1.75" fill="#fff" stroke="#333" stroke-width="0.8"/>
<text x="482.50" y="327.20" font-size="7.5" text-anchor="start" font-weight="normal" font-style="normal" fill="#111" stroke="#111" stroke-width="0.1" >miR-29c</text>
<text x="483.30" y="340.80" font-size="7.5" text-anchor="start" font-weight="normal" font-style="normal" fill="#111" stroke="#111" stroke-width="0.1" >MIPI</text>
</g>
</svg>
</body></html>
